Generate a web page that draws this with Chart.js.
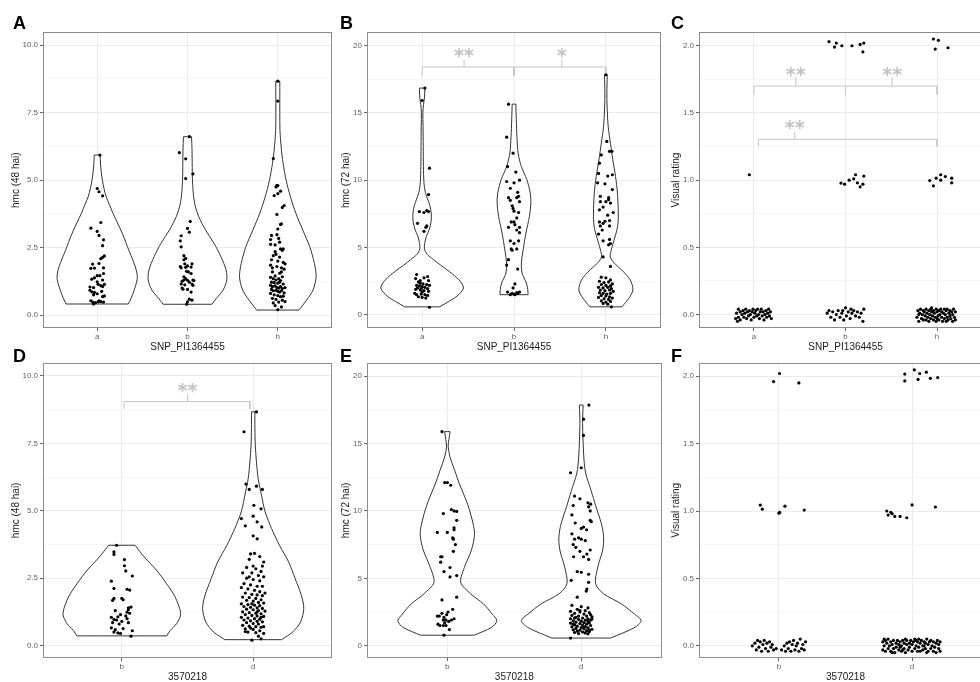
<!DOCTYPE html>
<html>
<head>
<meta charset="utf-8">
<script src="https://cdn.jsdelivr.net/npm/chart.js@4.4.1/dist/chart.umd.min.js"></script>
<style>
  html, body { margin: 0; padding: 0; background: #fff; overflow: hidden; }
  #figure { position: relative; width: 980px; height: 682px; overflow: hidden; background: #fff; }
  #figure canvas { position: absolute; }
</style>
</head>
<body>
<div id="figure"></div>
<script>
// ---------- categories and tick labels ----------
const groupsSnp = ['a', 'b', 'h'];
const groups3570218 = ['b', 'd'];

const ticksHmc48 = [0, 2.5, 5, 7.5, 10];
const labelsHmc48 = ['0.0', '2.5', '5.0', '7.5', '10.0'];
const minorHmc48 = [1.25, 3.75, 6.25, 8.75];

const ticksHmc72 = [0, 5, 10, 15, 20];
const labelsHmc72 = ['0', '5', '10', '15', '20'];
const minorHmc72 = [2.5, 7.5, 12.5, 17.5];

const ticksRating = [0, 0.5, 1, 1.5, 2];
const labelsRating = ['0.0', '0.5', '1.0', '1.5', '2.0'];
const minorRating = [0.25, 0.75, 1.25, 1.75];

// ---------- violin outlines: [value, half width] from bottom to top ----------
const outline48Snp_a = [[0.41,0.345],[0.62,0.375],[0.93,0.41],[1.2,0.435],[1.42,0.445],[1.7,0.43],[1.95,0.405],[2.2,0.375],[2.53,0.335],[2.85,0.3],[3.15,0.262],[3.45,0.22],[3.77,0.175],[4.1,0.135],[4.38,0.1],[4.7,0.075],[5.0,0.057],[5.3,0.045],[5.6,0.037],[5.93,0.033]];
const outline48Snp_b = [[0.4,0.27],[0.62,0.32],[0.93,0.395],[1.3,0.435],[1.67,0.427],[2.16,0.37],[2.65,0.295],[3.15,0.2],[3.4,0.16],[3.64,0.125],[4.01,0.088],[4.38,0.068],[5.0,0.055],[5.62,0.052],[6.11,0.05],[6.61,0.045]];
const outline48Snp_h = [[0.185,0.235],[0.56,0.32],[0.93,0.39],[1.42,0.424],[1.91,0.405],[2.53,0.354],[3.15,0.276],[3.77,0.2],[4.38,0.14],[5.0,0.092],[5.62,0.059],[6.23,0.037],[6.85,0.024],[7.5,0.022],[8.2,0.022],[8.67,0.022]];

const outline72Snp_a = [[0.6,0.19],[1.0,0.29],[1.4,0.38],[2.0,0.45],[2.6,0.4],[3.2,0.3],[3.7,0.2],[4.1,0.125],[4.5,0.055],[4.9,0.025],[5.3,0.028],[5.8,0.045],[6.3,0.075],[6.9,0.097],[7.5,0.1],[8.1,0.085],[8.6,0.06],[9.1,0.035],[9.8,0.02],[11.0,0.014],[12.5,0.012],[14.0,0.01],[15.0,0.008],[15.6,0.015],[16.1,0.025],[16.83,0.03]];
const outline72Snp_b = [[1.5,0.153],[1.87,0.15],[2.36,0.135],[3.1,0.088],[3.85,0.08],[4.84,0.1],[6.07,0.13],[7.31,0.168],[8.3,0.184],[9.04,0.177],[10.03,0.14],[11.01,0.08],[12.0,0.045],[13.24,0.032],[14.47,0.025],[15.64,0.02]];
const outline72Snp_h = [[0.6,0.175],[1.24,0.25],[1.86,0.294],[2.6,0.265],[3.35,0.17],[3.85,0.09],[4.3,0.048],[4.8,0.058],[5.33,0.08],[6.57,0.128],[7.56,0.135],[9.04,0.126],[10.28,0.105],[11.5,0.076],[12.76,0.049],[14.0,0.025],[15.5,0.013],[16.46,0.011],[17.82,0.015]];

const outline48Loc_b = [[0.36,0.342],[0.57,0.37],[0.82,0.418],[1.19,0.448],[1.81,0.405],[2.3,0.34],[2.8,0.263],[3.29,0.17],[3.72,0.101]];
const outline48Loc_d = [[0.22,0.215],[0.5,0.3],[0.87,0.36],[1.37,0.385],[1.86,0.367],[2.48,0.32],[3.1,0.27],[3.72,0.2],[4.34,0.14],[4.96,0.091],[5.58,0.063],[6.19,0.038],[6.81,0.025],[7.43,0.016],[8.05,0.013],[8.67,0.013]];

const outline72Loc_b = [[0.78,0.2],[1.36,0.33],[1.86,0.37],[2.35,0.335],[3.1,0.27],[3.85,0.174],[4.7,0.1],[5.8,0.127],[7.1,0.18],[8.3,0.203],[9.55,0.18],[10.8,0.14],[12.0,0.09],[13.0,0.055],[14.0,0.02],[14.8,0.006],[15.3,0.012],[15.88,0.02]];
const outline72Loc_d = [[0.57,0.22],[1.36,0.4],[1.86,0.447],[2.35,0.397],[3.1,0.3],[3.85,0.167],[4.6,0.107],[5.85,0.124],[7.1,0.16],[8.08,0.167],[9.07,0.15],[10.3,0.11],[11.5,0.074],[12.8,0.033],[14.0,0.019],[16.5,0.01],[17.85,0.014]];

// ---------- observations: [horizontal jitter, value] ----------
const points48Snp_a = [[0.03,5.93],[0.0,4.69],[0.02,4.57],[0.06,4.42],[0.04,3.43],[-0.07,3.22],[0.0,3.1],[0.02,2.95],[0.07,2.79],[0.06,2.57],[0.08,2.19],[0.06,2.14],[0.04,2.09],[-0.05,1.89],[0.02,1.91],[-0.07,1.73],[-0.03,1.74],[0.07,1.75],[0.07,1.54],[0.0,1.46],[0.03,1.46],[-0.06,1.33],[-0.03,1.38],[0.06,1.3],[0.0,1.23],[0.01,1.14],[0.08,1.14],[0.04,1.09],[0.06,1.06],[-0.08,1.04],[-0.04,1.02],[-0.08,0.92],[-0.06,0.86],[-0.03,0.84],[0.05,0.88],[0.0,0.79],[-0.04,0.75],[0.06,0.68],[0.08,0.71],[-0.07,0.53],[-0.05,0.48],[-0.02,0.46],[0.01,0.49],[0.02,0.53],[0.04,0.5],[0.07,0.48],[-0.04,0.41]];
const points48Snp_b = [[0.02,6.61],[-0.09,6.02],[-0.02,5.79],[0.06,5.23],[-0.02,5.06],[0.03,3.47],[0.0,3.21],[0.02,3.07],[-0.07,2.94],[-0.08,2.75],[-0.07,2.53],[-0.04,2.2],[-0.02,2.1],[-0.04,2.05],[-0.08,1.8],[-0.07,1.75],[-0.02,1.77],[0.0,1.82],[0.04,1.78],[-0.01,1.62],[0.04,1.54],[-0.04,1.42],[-0.02,1.35],[-0.04,1.3],[0.0,1.29],[0.06,1.3],[0.07,1.28],[-0.07,1.15],[-0.03,1.12],[0.05,1.15],[0.06,1.1],[-0.05,0.96],[0.0,0.95],[0.04,0.85],[-0.06,1.0],[0.02,1.22],[0.01,1.6],[0.02,0.59],[0.05,0.55],[0.0,0.49],[-0.01,0.4],[-0.03,1.9],[0.05,1.9],[-0.06,1.25]];
const points48Snp_h = [[0.0,8.67],[0.0,7.93],[-0.05,5.8],[-0.01,4.81],[-0.02,4.75],[0.0,4.8],[0.03,4.59],[-0.04,4.43],[0.0,4.5],[0.07,4.06],[0.05,3.99],[-0.01,3.73],[0.03,3.36],[0.0,3.19],[0.04,3.38],[-0.07,2.95],[-0.01,2.98],[0.01,2.84],[-0.08,2.8],[-0.08,2.62],[-0.03,2.6],[0.03,2.45],[0.05,2.4],[0.06,2.45],[-0.02,2.25],[-0.05,2.2],[0.02,2.15],[-0.07,2.05],[0.0,2.0],[0.06,1.95],[0.08,1.9],[-0.08,1.85],[-0.01,1.8],[0.04,1.75],[0.07,1.7],[-0.06,1.6],[0.02,1.55],[-0.03,1.45],[0.05,1.42],[-0.08,1.4],[-0.05,1.35],[-0.02,1.3],[0.01,1.35],[0.03,1.28],[-0.07,1.22],[-0.04,1.2],[0.0,1.18],[0.02,1.22],[0.06,1.15],[-0.08,1.1],[-0.06,1.05],[-0.03,1.08],[-0.01,1.02],[0.01,1.0],[0.03,1.05],[0.05,0.98],[0.08,1.02],[-0.07,0.95],[-0.05,0.9],[-0.02,0.92],[0.0,0.88],[0.02,0.85],[0.04,0.9],[0.07,0.82],[-0.08,0.8],[-0.04,0.75],[0.0,0.72],[0.03,0.68],[0.06,0.7],[-0.06,0.62],[-0.02,0.58],[0.05,0.55],[0.08,0.5],[-0.05,0.45],[0.01,0.48],[-0.03,0.35],[0.04,0.3],[0.0,0.2],[-0.06,1.75],[0.04,1.6],[-0.03,2.35],[0.02,2.7]];

const points72Snp_a = [[0.03,16.83],[0.0,15.91],[0.08,10.89],[0.07,8.93],[-0.03,7.67],[0.02,7.6],[0.05,7.74],[0.07,7.67],[-0.05,6.8],[0.05,6.6],[0.04,6.5],[0.02,6.2],[-0.06,3.0],[0.06,2.85],[0.02,2.75],[-0.07,2.7],[0.07,2.55],[-0.04,2.45],[-0.02,2.35],[0.01,2.3],[0.05,2.25],[-0.06,2.2],[-0.03,2.15],[0.0,2.1],[0.03,2.05],[-0.05,2.0],[-0.01,1.95],[0.06,1.95],[-0.07,1.9],[-0.02,1.85],[0.02,1.8],[0.07,1.75],[-0.08,1.6],[-0.06,1.5],[-0.01,1.55],[0.03,1.5],[0.06,1.45],[-0.04,1.35],[0.0,1.3],[0.04,1.25],[-0.02,2.55],[0.08,2.2],[0.0,1.7],[0.08,0.57]];
const points72Snp_b = [[-0.06,15.64],[-0.08,13.19],[-0.01,12.0],[-0.07,11.01],[0.02,10.6],[-0.08,9.9],[0.0,9.8],[0.06,10.0],[-0.04,9.4],[0.04,9.1],[0.05,8.8],[0.03,8.7],[-0.06,8.7],[-0.04,8.5],[0.06,8.4],[-0.02,8.1],[-0.01,7.9],[0.05,7.6],[0.0,7.7],[0.03,7.2],[0.01,6.7],[-0.03,6.9],[0.0,6.9],[0.06,6.5],[-0.06,6.5],[0.03,6.3],[0.06,6.1],[-0.04,5.5],[0.05,5.5],[0.0,5.3],[0.03,4.9],[-0.02,4.8],[-0.03,4.9],[-0.06,4.1],[-0.08,3.7],[0.04,3.4],[0.01,2.3],[-0.01,2.0],[-0.07,1.7],[0.0,1.55],[0.03,1.65],[-0.02,1.6],[0.06,1.7],[0.01,1.5],[0.04,1.6],[-0.04,1.5]];
const points72Snp_h = [[0.0,17.82],[0.01,12.87],[0.04,12.14],[0.065,12.14],[-0.05,11.87],[-0.07,11.26],[-0.08,10.5],[0.02,10.3],[0.07,10.4],[-0.09,9.8],[-0.01,9.73],[0.07,9.3],[0.03,8.7],[0.03,8.55],[-0.06,8.8],[-0.06,8.4],[0.0,8.4],[0.05,8.3],[-0.03,8.0],[0.08,7.6],[-0.07,7.8],[0.02,7.4],[0.04,7.0],[-0.07,6.9],[-0.03,6.8],[-0.01,6.95],[-0.06,6.6],[0.04,6.6],[-0.04,6.3],[-0.08,6.0],[-0.03,5.5],[0.04,5.6],[0.05,5.3],[0.03,5.2],[-0.03,4.3],[0.05,3.6],[-0.05,2.8],[0.0,2.75],[0.05,2.6],[-0.07,2.5],[-0.02,2.4],[0.03,2.45],[0.07,2.3],[-0.05,2.25],[0.0,2.2],[0.05,2.15],[-0.08,2.05],[-0.03,2.0],[0.02,2.05],[0.06,1.95],[-0.06,1.85],[-0.01,1.8],[0.04,1.85],[0.08,1.75],[-0.07,1.65],[-0.03,1.6],[0.01,1.55],[0.05,1.6],[-0.05,1.45],[0.0,1.4],[0.04,1.35],[-0.08,1.3],[-0.02,1.2],[0.03,1.15],[0.07,1.25],[-0.05,1.05],[0.0,0.95],[0.05,1.0],[-0.03,0.85],[0.02,0.8],[0.06,0.6]];

const ratingSnp_a = [[-0.05,1.04],[-0.2,-0.03],[-0.19,0.01],[-0.17,-0.02],[-0.17,0.04],[-0.15,0.02],[-0.15,-0.04],[-0.13,0.0],[-0.12,0.03],[-0.11,-0.02],[-0.1,0.01],[-0.09,0.04],[-0.08,-0.03],[-0.07,0.02],[-0.06,-0.01],[-0.05,0.03],[-0.04,0.0],[-0.03,-0.04],[-0.02,0.02],[-0.01,0.04],[0.0,-0.02],[0.01,0.01],[0.02,0.03],[0.03,-0.01],[0.04,0.04],[0.05,0.0],[0.06,-0.03],[0.07,0.02],[0.08,0.04],[0.09,-0.01],[0.1,0.02],[0.11,-0.04],[0.12,0.0],[0.13,0.03],[0.14,-0.02],[0.15,0.01],[0.17,-0.01],[0.18,0.02],[0.19,-0.03],[-0.18,-0.05],[0.16,0.04]];
const ratingSnp_b = [[-0.18,2.03],[-0.1,2.02],[-0.12,1.99],[-0.04,2.0],[0.07,2.0],[0.16,2.01],[0.2,2.02],[0.19,1.955],[-0.05,0.978],[-0.01,0.97],[0.04,1.0],[0.09,1.01],[0.11,1.04],[0.13,0.98],[0.16,0.95],[0.2,1.03],[0.19,0.97],[-0.2,0.01],[-0.18,0.03],[-0.16,-0.02],[-0.14,0.02],[-0.12,-0.04],[-0.1,0.0],[-0.08,0.03],[-0.06,-0.02],[-0.04,0.01],[-0.02,-0.04],[0.0,0.05],[0.01,-0.01],[0.03,0.02],[0.05,-0.03],[0.07,0.01],[0.09,0.03],[0.11,-0.01],[0.13,0.02],[0.15,-0.02],[0.17,0.01],[0.19,-0.05],[0.2,0.04],[-0.03,0.03],[0.06,0.04]];
const ratingSnp_h = [[-0.04,2.05],[0.015,2.04],[-0.02,1.975],[0.12,1.985],[-0.08,0.997],[-0.04,0.958],[-0.01,1.015],[0.04,1.04],[0.04,1.0],[0.09,1.027],[0.16,1.015],[0.16,0.98],[-0.22,-0.02],[-0.21,0.03],[-0.2,-0.05],[-0.19,0.01],[-0.18,0.04],[-0.17,-0.03],[-0.16,0.0],[-0.15,0.03],[-0.15,-0.04],[-0.14,0.02],[-0.13,-0.01],[-0.12,0.04],[-0.12,-0.04],[-0.11,0.01],[-0.1,-0.02],[-0.09,0.03],[-0.09,-0.05],[-0.08,0.0],[-0.07,0.04],[-0.07,-0.03],[-0.06,0.02],[-0.05,-0.01],[-0.04,0.03],[-0.04,-0.04],[-0.03,0.01],[-0.02,-0.02],[-0.01,0.04],[-0.01,-0.05],[0.0,0.02],[0.01,-0.01],[0.02,0.03],[0.02,-0.04],[0.03,0.0],[0.04,0.04],[0.05,-0.02],[0.05,0.02],[0.06,-0.05],[0.07,0.01],[0.08,0.04],[0.08,-0.03],[0.09,0.0],[0.1,0.03],[0.11,-0.02],[0.11,0.04],[0.12,-0.04],[0.13,0.01],[0.14,-0.01],[0.14,0.03],[0.15,-0.03],[0.16,0.02],[0.17,-0.05],[0.17,0.0],[0.18,0.04],[0.19,-0.02],[0.2,0.02],[0.2,-0.04],[-0.2,0.0],[0.0,-0.03],[-0.06,0.05],[0.1,-0.05]];

const points48Loc_b = [[-0.04,3.72],[-0.06,3.48],[-0.06,3.38],[0.02,3.19],[0.02,2.96],[0.03,2.77],[0.08,2.58],[-0.08,2.39],[-0.06,2.12],[0.04,2.09],[0.06,2.06],[-0.06,1.75],[0.0,1.75],[-0.07,1.68],[0.01,1.7],[0.05,1.4],[0.07,1.43],[0.05,1.33],[0.04,1.24],[-0.08,1.05],[-0.06,0.97],[-0.04,0.95],[-0.03,1.07],[-0.01,1.15],[0.04,1.0],[0.05,0.85],[-0.08,0.66],[-0.05,0.59],[0.01,0.63],[-0.03,0.47],[-0.01,0.45],[0.08,0.55],[0.07,0.35],[-0.06,0.5],[-0.07,0.85],[0.06,1.2],[-0.02,0.8],[0.03,1.1],[-0.05,1.3],[0.0,0.9]];
const points48Loc_d = [[0.025,8.67],[-0.07,7.93],[-0.055,5.99],[-0.03,5.79],[0.025,5.91],[0.07,5.79],[0.005,5.2],[0.06,5.07],[-0.09,4.71],[0.03,4.59],[0.065,4.4],[-0.06,4.44],[0.0,4.8],[0.0,4.07],[0.03,3.96],[-0.02,3.4],[0.01,3.42],[0.05,3.3],[0.08,3.1],[-0.03,3.2],[0.07,2.95],[-0.05,2.9],[0.02,2.85],[0.06,2.75],[-0.08,2.7],[-0.01,2.7],[0.04,2.6],[0.08,2.55],[-0.05,2.5],[0.0,2.45],[0.05,2.4],[-0.07,2.3],[-0.02,2.25],[0.03,2.2],[0.07,2.2],[-0.09,2.15],[-0.04,2.1],[0.01,2.05],[0.05,2.0],[0.09,1.95],[-0.06,1.95],[-0.01,1.9],[0.03,1.88],[0.07,1.85],[-0.08,1.8],[-0.03,1.78],[0.02,1.75],[0.06,1.7],[-0.05,1.68],[0.0,1.65],[0.04,1.6],[0.08,1.58],[-0.09,1.55],[-0.04,1.52],[0.01,1.5],[0.05,1.48],[-0.07,1.45],[-0.02,1.42],[0.03,1.4],[0.07,1.38],[-0.05,1.35],[0.0,1.33],[0.04,1.3],[0.09,1.28],[-0.08,1.25],[-0.03,1.22],[0.02,1.2],[0.06,1.18],[-0.06,1.15],[-0.01,1.12],[0.03,1.1],[0.08,1.08],[-0.09,1.05],[-0.04,1.02],[0.01,1.0],[0.05,0.98],[-0.07,0.95],[-0.02,0.92],[0.03,0.9],[0.07,0.88],[-0.05,0.85],[0.0,0.82],[0.04,0.8],[-0.08,0.75],[-0.03,0.72],[0.02,0.7],[0.06,0.68],[-0.06,0.62],[0.0,0.6],[0.05,0.55],[-0.04,0.5],[0.02,0.48],[0.08,0.45],[-0.06,0.52],[0.04,0.35],[0.06,0.25],[-0.01,0.2],[0.0,2.95],[-0.03,2.55],[0.03,1.25],[-0.01,1.55],[0.06,1.05],[-0.02,0.65],[0.08,0.7]];

const points72Loc_b = [[-0.04,15.88],[-0.02,12.1],[0.0,12.1],[0.025,11.9],[0.03,10.1],[0.05,10.0],[0.07,9.96],[-0.03,9.8],[0.07,9.3],[0.05,8.6],[0.05,8.75],[-0.075,8.4],[0.0,8.4],[0.04,8.0],[0.045,7.9],[0.06,7.5],[0.045,7.0],[-0.05,6.6],[-0.04,6.6],[-0.05,6.2],[0.02,5.8],[-0.025,5.5],[0.02,5.1],[0.07,5.2],[0.07,3.6],[-0.04,3.4],[-0.075,2.2],[-0.06,2.2],[-0.04,2.4],[-0.025,2.1],[-0.005,2.3],[0.005,2.5],[-0.01,1.9],[-0.02,1.7],[-0.03,1.5],[-0.01,1.5],[-0.055,1.5],[0.015,1.2],[0.05,2.0],[0.01,1.8],[-0.07,1.6],[0.03,1.9],[-0.025,0.78],[0.04,2.7],[-0.03,1.9]];
const points72Loc_d = [[0.057,17.85],[0.017,16.8],[0.017,15.6],[0.0,13.2],[-0.08,12.83],[-0.05,11.1],[-0.01,10.9],[0.05,10.6],[0.07,10.5],[-0.06,10.4],[0.055,10.3],[0.067,10.0],[-0.07,9.7],[-0.045,9.1],[0.017,8.8],[0.0,8.7],[0.04,8.6],[0.067,9.3],[0.075,9.2],[-0.07,8.3],[-0.05,7.9],[-0.02,8.0],[0.0,7.9],[0.03,7.8],[-0.06,7.5],[-0.04,7.3],[-0.01,7.0],[0.017,6.6],[-0.057,6.6],[0.042,6.8],[0.067,7.1],[0.055,6.4],[-0.03,5.5],[0.0,5.45],[0.055,5.3],[-0.075,4.85],[0.055,4.7],[0.042,4.2],[0.037,4.05],[-0.03,3.6],[-0.07,3.0],[0.0,2.9],[0.05,2.8],[-0.03,2.7],[0.03,2.6],[-0.08,2.55],[-0.01,2.5],[0.06,2.45],[-0.05,2.4],[0.02,2.35],[0.07,2.3],[-0.07,2.25],[-0.02,2.2],[0.04,2.2],[0.08,2.15],[-0.04,2.1],[0.01,2.05],[0.05,2.0],[-0.08,2.0],[-0.02,1.95],[0.03,1.9],[0.07,1.9],[-0.06,1.85],[0.0,1.82],[0.05,1.8],[-0.04,1.75],[0.02,1.72],[0.06,1.7],[-0.08,1.68],[-0.01,1.65],[0.04,1.6],[-0.05,1.55],[0.01,1.52],[0.07,1.5],[-0.03,1.45],[0.03,1.42],[-0.07,1.4],[0.0,1.35],[0.05,1.32],[-0.04,1.28],[0.02,1.25],[0.08,1.22],[-0.06,1.18],[-0.01,1.15],[0.04,1.12],[-0.03,1.08],[0.06,1.05],[0.01,1.02],[-0.05,0.98],[0.03,0.95],[-0.02,0.9],[0.05,0.88],[-0.06,1.6],[0.08,1.98],[-0.01,2.6],[0.02,1.35],[-0.05,2.05],[0.06,1.15],[-0.08,0.57]];

const ratingLoc_b = [[-0.04,1.96],[0.005,2.02],[0.15,1.95],[-0.14,1.044],[-0.125,1.014],[0.0,0.984],[0.005,0.99],[0.045,1.036],[0.19,1.007],[-0.2,0.0],[-0.18,0.02],[-0.17,-0.03],[-0.16,0.04],[-0.15,-0.01],[-0.14,0.03],[-0.13,-0.04],[-0.12,0.01],[-0.11,0.04],[-0.1,-0.02],[-0.09,0.02],[-0.08,-0.04],[-0.07,0.03],[-0.06,-0.01],[-0.05,0.01],[-0.04,-0.03],[-0.02,-0.02],[0.02,-0.03],[0.04,0.0],[0.05,-0.04],[0.06,0.02],[0.07,-0.02],[0.08,0.03],[0.09,-0.04],[0.1,0.01],[0.11,0.04],[0.12,-0.03],[0.13,0.0],[0.14,0.02],[0.15,-0.04],[0.16,0.05],[0.17,-0.02],[0.18,0.01],[0.19,-0.03],[0.2,0.03]];
const ratingLoc_d = [[-0.055,2.016],[-0.055,1.965],[0.017,2.047],[0.045,1.976],[0.057,2.02],[0.107,2.03],[0.137,1.984],[0.192,1.99],[-0.19,1.0],[-0.18,0.97],[-0.16,0.99],[-0.15,0.98],[-0.13,0.96],[-0.09,0.96],[-0.04,0.95],[0.0,1.045],[0.175,1.03],[-0.22,0.03],[-0.22,-0.03],[-0.21,0.0],[-0.2,0.04],[-0.2,-0.04],[-0.19,0.02],[-0.18,-0.02],[-0.18,0.05],[-0.17,0.0],[-0.16,-0.04],[-0.16,0.03],[-0.15,0.01],[-0.14,-0.02],[-0.14,0.04],[-0.13,-0.05],[-0.12,0.02],[-0.12,-0.01],[-0.11,0.04],[-0.1,-0.03],[-0.1,0.01],[-0.09,0.03],[-0.08,-0.04],[-0.08,0.0],[-0.07,0.04],[-0.06,-0.02],[-0.06,0.02],[-0.05,-0.05],[-0.04,0.01],[-0.04,0.04],[-0.03,-0.03],[-0.02,0.02],[-0.02,-0.01],[-0.01,0.04],[0.0,-0.04],[0.0,0.01],[0.01,0.03],[0.02,-0.02],[0.02,0.05],[0.03,0.0],[0.04,-0.04],[0.04,0.03],[0.05,-0.01],[0.06,0.02],[0.06,-0.04],[0.07,0.04],[0.08,0.0],[0.08,-0.03],[0.09,0.03],[0.1,-0.02],[0.1,0.02],[0.11,0.05],[0.12,-0.04],[0.12,0.01],[0.13,0.03],[0.14,-0.02],[0.14,0.04],[0.15,0.0],[0.16,-0.04],[0.16,0.03],[0.17,-0.01],[0.18,0.02],[0.18,-0.05],[0.19,0.04],[0.2,-0.02],[0.2,0.01],[0.21,-0.04],[0.21,0.03],[-0.15,-0.05],[-0.05,0.05],[0.05,0.05],[0.11,-0.05],[-0.21,0.05],[0.09,0.0],[-0.09,-0.01],[0.03,0.04],[-0.07,-0.03]];

// ---------- significance brackets: [from, to, bar, tip, stem x, stem top, label value, label] ----------
const brackets72Snp = [[1, 2, 18.4, 17.74, 1.456, 18.93, 19.47, '**'], [2, 3, 18.4, 17.74, 2.52, 18.93, 19.47, '*']];
const bracketsRatingSnp = [[1, 2, 1.70, 1.638, 1.457, 1.765, 1.807, '**'], [2, 3, 1.70, 1.638, 2.51, 1.765, 1.807, '**'], [1.05, 3, 1.304, 1.25, 1.446, 1.36, 1.408, '**']];
const brackets48Loc = [[1.017, 1.974, 9.05, 8.78, 1.5, 9.32, 9.56, '**']];

// ---------- drawing helpers ----------
const FONT = '"Liberation Sans", Arial, Helvetica, sans-serif';
Chart.defaults.font.family = FONT;

function violinOutline(center, profile) {
  const n = profile.length - 1;
  const [y0, w0] = profile[0];
  const [yn, wn] = profile[n];
  const pts = [];
  // doubled corner points keep the flat ends straight under curve smoothing
  pts.push({x: center - w0, y: y0}, {x: center - w0, y: y0});
  pts.push({x: center + w0, y: y0}, {x: center + w0, y: y0});
  for (let i = 1; i < n; i++) pts.push({x: center + profile[i][1], y: profile[i][0]});
  pts.push({x: center + wn, y: yn}, {x: center + wn, y: yn});
  pts.push({x: center - wn, y: yn}, {x: center - wn, y: yn});
  for (let i = n - 1; i >= 1; i--) pts.push({x: center - profile[i][1], y: profile[i][0]});
  pts.push({x: center - w0, y: y0}, {x: center - w0, y: y0});
  return pts;
}

function violinDataset(center, profile) {
  return {
    data: violinOutline(center, profile), showLine: true, fill: 'shape',
    backgroundColor: '#ffffff', borderColor: '#333333', borderWidth: 1,
    pointRadius: 0, tension: 0.3, order: 2
  };
}

function pointDataset(center, pairs) {
  return {
    data: pairs.map(([dx, v]) => ({x: center + dx, y: v})),
    pointRadius: 1.6, pointHoverRadius: 0, pointBorderWidth: 0,
    pointBackgroundColor: '#000000', backgroundColor: '#000000', borderColor: '#000000',
    showLine: false, order: 0
  };
}

function bracketDatasets(list) {
  const out = [];
  list.forEach(([x1, x2, bar, tip, sx, stemTop]) => {
    const style = {showLine: true, borderColor: '#c4c4c4', borderWidth: 1, pointRadius: 0, tension: 0, fill: false, order: 1};
    out.push(Object.assign({data: [{x: x1, y: tip}, {x: x1, y: bar}, {x: x2, y: bar}, {x: x2, y: tip}]}, style));
    out.push(Object.assign({data: [{x: sx, y: bar}, {x: sx, y: stemTop}]}, style));
  });
  return out;
}

// panel frame, panel letter and bracket labels
const panelDecor = {
  id: 'panelDecor',
  afterDraw(chart, args, opts) {
    const {ctx, chartArea: a, scales} = chart;
    ctx.save();
    (opts.brackets || []).forEach(b => {
      const px = scales.x.getPixelForValue(b[4]);
      const py = scales.y.getPixelForValue(b[6]);
      ctx.font = 'bold 19px "DejaVu Sans", sans-serif';
      ctx.fillStyle = '#c2c2c2';
      ctx.textAlign = 'center';
      ctx.textBaseline = 'alphabetic';
      const m = ctx.measureText(b[7]);
      ctx.fillText(b[7], px, py + (m.actualBoundingBoxAscent - m.actualBoundingBoxDescent) / 2);
    });
    ctx.strokeStyle = '#8c8c8c';
    ctx.lineWidth = 1;
    ctx.strokeRect(Math.round(a.left) + 0.5, Math.round(a.top) + 0.5,
                   Math.round(a.right) - Math.round(a.left) - 1, Math.round(a.bottom) - Math.round(a.top) - 1);
    ctx.font = 'bold 18px ' + FONT;
    ctx.fillStyle = '#000000';
    ctx.textAlign = 'left';
    ctx.textBaseline = 'alphabetic';
    ctx.fillText(opts.letter, opts.letterX, opts.letterY);
    ctx.restore();
  }
};

function makePanel(p) {
  const canvas = document.createElement('canvas');
  canvas.width = p.width; canvas.height = p.height;
  canvas.style.left = p.left + 'px'; canvas.style.top = p.top + 'px';
  canvas.style.width = p.width + 'px'; canvas.style.height = p.height + 'px';
  document.getElementById('figure').appendChild(canvas);

  const datasets = [];
  p.points.forEach((pairs, i) => datasets.push(pointDataset(i + 1, pairs)));
  (p.violins || []).forEach((prof, i) => datasets.push(violinDataset(i + 1, prof)));
  datasets.push(...bracketDatasets(p.brackets || []));

  const isMajor = v => p.yMajor.indexOf(v) >= 0;

  new Chart(canvas, {
    type: 'scatter',
    data: {datasets},
    options: {
      responsive: false, animation: false, devicePixelRatio: 1, events: [],
      layout: {padding: {left: 0, top: p.padTop, right: p.width - p.chartRight, bottom: 0}},
      plugins: {
        legend: {display: false}, tooltip: {enabled: false},
        panelDecor: {letter: p.letter, letterX: p.letterX, letterY: p.letterY, brackets: p.brackets || []}
      },
      scales: {
        x: {
          type: 'linear', position: 'bottom', min: 0.4, max: p.groups.length + 0.6,
          afterBuildTicks: s => { s.ticks = p.groups.map((g, i) => ({value: i + 1})); },
          afterFit: s => { s.height = p.axisH; },
          ticks: {autoSkip: false, maxRotation: 0, padding: 0.5, color: '#5e5e5e', font: {size: 8},
                  callback: v => p.groups[Math.round(v) - 1]},
          grid: {color: '#ebebeb', lineWidth: 1, tickColor: '#666666', tickLength: 3},
          border: {display: false},
          title: {display: true, text: p.xTitle, color: '#1a1a1a', font: {size: 10}, padding: {top: 0, bottom: p.xTitlePad}}
        },
        y: {
          type: 'linear', position: 'left', min: p.yMin, max: p.yMax,
          afterBuildTicks: s => {
            s.ticks = p.yMajor.concat(p.yMinor).sort((a, b) => a - b).map(v => ({value: v}));
          },
          afterFit: s => { s.width = 43; },
          ticks: {autoSkip: false, padding: 2, color: '#5e5e5e', font: {size: 8},
                  callback: v => { const i = p.yMajor.indexOf(v); return i >= 0 ? p.yLabels[i] : ''; }},
          grid: {
            lineWidth: 1, tickLength: 3,
            color: c => (c.tick && isMajor(c.tick.value)) ? '#ebebeb' : '#f5f5f5',
            tickColor: c => (c.tick && isMajor(c.tick.value)) ? '#666666' : 'rgba(0,0,0,0)'
          },
          border: {display: false},
          title: {display: true, text: p.yTitle, color: '#1a1a1a', font: {size: 10}, padding: {top: p.yTitlePad, bottom: 0}}
        }
      }
    },
    plugins: [panelDecor]
  });
}

const topRow = {top: 0, height: 355, padTop: 32.3, axisH: 27, xTitlePad: 2, letterY: 29, groups: groupsSnp, xTitle: 'SNP_PI1364455'};
const bottomRow = {top: 340, height: 346, padTop: 22.7, axisH: 28, xTitlePad: 2.5, letterY: 22, groups: groups3570218, xTitle: '3570218'};

makePanel(Object.assign({}, topRow, {
  letter: 'A', left: 0, width: 340, chartRight: 332, letterX: 13, yTitlePad: 9.8,
  yTitle: 'hmc (48 hai)', yMin: -0.48, yMax: 10.48, yMajor: ticksHmc48, yLabels: labelsHmc48, yMinor: minorHmc48,
  violins: [outline48Snp_a, outline48Snp_b, outline48Snp_h],
  points: [points48Snp_a, points48Snp_b, points48Snp_h]
}));
makePanel(Object.assign({}, topRow, {
  letter: 'B', left: 324, width: 345, chartRight: 337, letterX: 16, yTitlePad: 16,
  yTitle: 'hmc (72 hai)', yMin: -0.97, yMax: 20.97, yMajor: ticksHmc72, yLabels: labelsHmc72, yMinor: minorHmc72,
  violins: [outline72Snp_a, outline72Snp_b, outline72Snp_h],
  points: [points72Snp_a, points72Snp_b, points72Snp_h],
  brackets: brackets72Snp
}));
makePanel(Object.assign({}, topRow, {
  letter: 'C', left: 656, width: 344, chartRight: 336, letterX: 15, yTitlePad: 14,
  yTitle: 'Visual rating', yMin: -0.1, yMax: 2.1, yMajor: ticksRating, yLabels: labelsRating, yMinor: minorRating,
  points: [ratingSnp_a, ratingSnp_b, ratingSnp_h],
  brackets: bracketsRatingSnp
}));
makePanel(Object.assign({}, bottomRow, {
  letter: 'D', left: 0, width: 340, chartRight: 332, letterX: 13, yTitlePad: 9.8,
  yTitle: 'hmc (48 hai)', yMin: -0.46, yMax: 10.49, yMajor: ticksHmc48, yLabels: labelsHmc48, yMinor: minorHmc48,
  violins: [outline48Loc_b, outline48Loc_d],
  points: [points48Loc_b, points48Loc_d],
  brackets: brackets48Loc
}));
makePanel(Object.assign({}, bottomRow, {
  letter: 'E', left: 324, width: 346, chartRight: 337.6, letterX: 16, yTitlePad: 16,
  yTitle: 'hmc (72 hai)', yMin: -0.91, yMax: 20.99, yMajor: ticksHmc72, yLabels: labelsHmc72, yMinor: minorHmc72,
  violins: [outline72Loc_b, outline72Loc_d],
  points: [points72Loc_b, points72Loc_d]
}));
makePanel(Object.assign({}, bottomRow, {
  letter: 'F', left: 656, width: 344, chartRight: 336, letterX: 15, yTitlePad: 14,
  yTitle: 'Visual rating', yMin: -0.09, yMax: 2.1, yMajor: ticksRating, yLabels: labelsRating, yMinor: minorRating,
  points: [ratingLoc_b, ratingLoc_d]
}));
</script>
</body>
</html>
